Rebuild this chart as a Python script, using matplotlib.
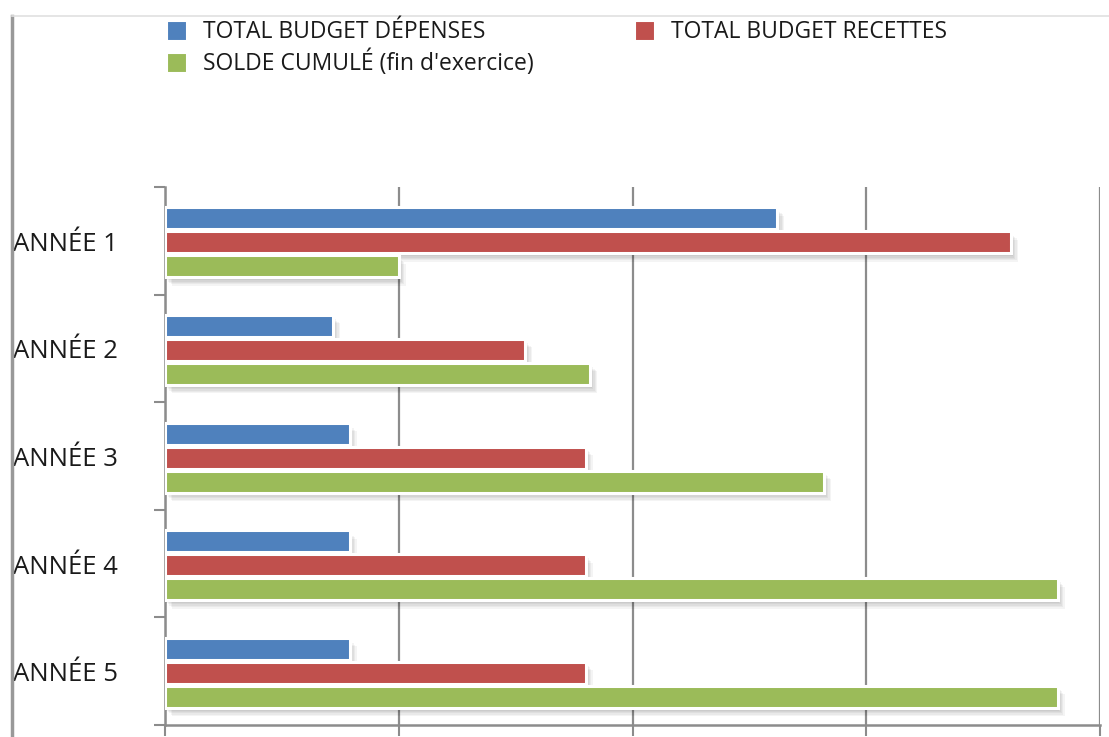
import matplotlib
matplotlib.use("Agg")
import matplotlib.pyplot as plt
import matplotlib.patheffects as pe
from matplotlib.lines import Line2D
import numpy as np

categories = ["ANNÉE 1", "ANNÉE 2", "ANNÉE 3", "ANNÉE 4", "ANNÉE 5"]
depenses = [2.62, 0.72, 0.79, 0.79, 0.79]
recettes = [3.62, 1.54, 1.80, 1.80, 1.80]
solde = [1.00, 1.82, 2.82, 3.82, 3.82]
series_names = ["TOTAL BUDGET DÉPENSES", "TOTAL BUDGET RECETTES", "SOLDE CUMULÉ (fin d'exercice)"]
colors = ["#4F81BD", "#C0504D", "#9BBB59"]

plt.rcParams['font.family'] = ['Open Sans', 'DejaVu Sans']

fig = plt.figure(figsize=(11.09, 7.37), dpi=100)
W, H = 1109, 737
ax = fig.add_axes([165 / W, 1 - 725 / H, 935 / W, 538 / H])

y = np.arange(len(categories)) + 0.015
off = 0.223
h = 0.205
shadow = [pe.SimplePatchShadow(offset=(k, -k - 1), shadow_rgbFace='k', alpha=0.045) for k in range(1, 6)]
shadow.append(pe.Normal())
for vals, o, c in zip([depenses, recettes, solde], [-off, 0, off], colors):
    bars = ax.barh(y + o, vals, height=h, color=c, edgecolor='white', linewidth=2.2, zorder=3)
    for b in bars:
        b.set_path_effects(shadow)

ax.set_xlim(0, 4)
ax.set_ylim(4.5, -0.5)
ax.set_xticks([0, 1, 2, 3, 4])
ax.set_xticklabels([])
ax.set_yticks(np.arange(-0.5, 5, 1))
ax.set_yticklabels([])
ax.tick_params(axis='both', direction='out', length=8, width=1.5, color='#8c8c8c')
ax.grid(axis='x', color='#8c8c8c', linewidth=1.6, zorder=0)
for s in ['top', 'right']:
    ax.spines[s].set_visible(False)
for s in ['left', 'bottom']:
    ax.spines[s].set_color('#8c8c8c')
    ax.spines[s].set_linewidth(1.8)

for i, lab in enumerate(categories):
    ax.text((13 - 165) / 935, i + 0.093, lab, transform=ax.get_yaxis_transform(),
            ha='left', va='baseline', fontsize=18.5, color='#1a1a1a')

# outer frame lines
fig.add_artist(Line2D([12 / W, 12 / W], [0, 1 - 16 / H], color='#999999', linewidth=2.5))
fig.add_artist(Line2D([12 / W, 1], [1 - 16 / H, 1 - 16 / H], color='#e0e0e0', linewidth=1.2))

# legend
leg_items = [(167, 38, series_names[0], colors[0]),
             (635, 38, series_names[1], colors[1]),
             (167, 70, series_names[2], colors[2])]
for x0, yb, txt, c in leg_items:
    fig.add_artist(plt.Rectangle((x0 / W, 1 - (yb + 3) / H), 20 / W, 20 / H,
                                 facecolor=c, edgecolor='white', linewidth=1.5))
    fig.text((x0 + 36) / W, 1 - yb / H, txt, ha='left', va='baseline', fontsize=16.5, color='#1a1a1a')

fig.savefig("out.png", dpi=100)
